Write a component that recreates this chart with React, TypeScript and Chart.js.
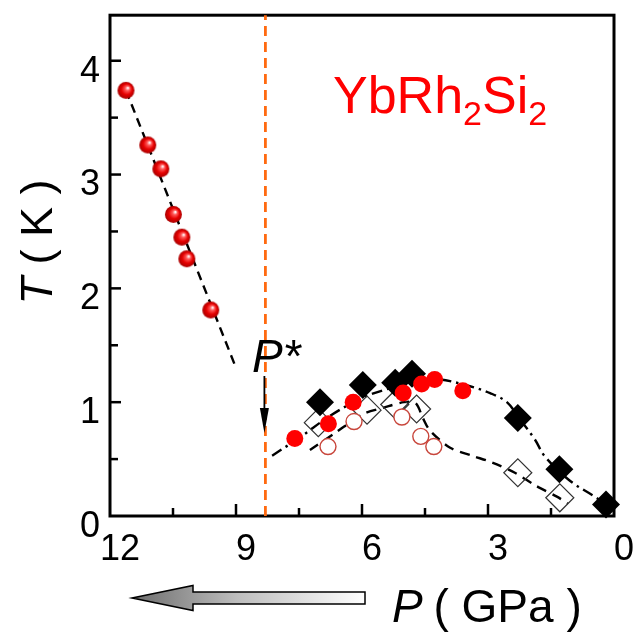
import React, { useEffect, useRef } from 'react';
import { Chart, registerables } from 'chart.js';

Chart.register(...registerables);

const FONT = '"Liberation Sans", Arial, Helvetica, sans-serif';

// ---- data (P in GPa, T in K) ----
const sphereRed: [number, number][] = [
  [11.62, 3.74], [11.1, 3.26], [10.79, 3.05], [10.49, 2.65], [10.29, 2.45], [10.17, 2.26], [9.6, 1.81],
];
const redFilled: [number, number][] = [
  [7.6, 0.68], [6.8, 0.81], [6.21, 1.0], [5.02, 1.08], [4.58, 1.16], [4.27, 1.2], [3.6, 1.1],
];
const redOpen: [number, number][] = [
  [6.81, 0.61], [6.19, 0.83], [5.05, 0.87], [4.6, 0.7], [4.29, 0.61],
];
const blackDiamond: [number, number][] = [
  [7.0, 1.0], [5.98, 1.15], [5.21, 1.17], [4.81, 1.25], [2.29, 0.86], [1.3, 0.41], [0.19, 0.1],
];
const openDiamond: [number, number][] = [
  [7.04, 0.82], [5.88, 0.93], [5.22, 0.98], [4.7, 0.94], [2.29, 0.38], [1.29, 0.16],
];
const guideA: [number, number][] = [
  [11.62, 3.74], [9.02, 1.32],
];
const guideB: [number, number][] = [
  [8.14, 0.53], [7.48, 0.69], [6.76, 0.88], [5.98, 1.04], [5.26, 1.13], [4.6, 1.19], [4.14, 1.2],
  [3.43, 1.14], [2.95, 1.08], [2.55, 1.0], [2.24, 0.85], [1.88, 0.67], [1.64, 0.52], [1.05, 0.31],
  [0.5, 0.18], [0.14, 0.09],
];
const guideC: [number, number][] = [
  [7.24, 0.58], [6.64, 0.73], [5.95, 0.9], [5.5, 0.95], [5.0, 1.0], [4.72, 0.99], [4.55, 0.86],
  [4.38, 0.75], [3.9, 0.6], [3.38, 0.53], [2.9, 0.47], [2.36, 0.38], [1.88, 0.27], [1.36, 0.17],
  [1.1, 0.11],
];
const pStar = 8.3;
const tRange: [number, number] = [0, 4.4];
const pRange: [number, number] = [0, 12];
const xMajor = [12, 9, 6, 3, 0];
const yMajor = [0, 1, 2, 3, 4];

const toXY = (arr: [number, number][]) => arr.map(([x, y]) => ({ x, y }));

function makeSphere(r: number): HTMLCanvasElement {
  const c = document.createElement('canvas');
  const s = Math.ceil(r * 2 + 2);
  c.width = s;
  c.height = s;
  const g = c.getContext('2d')!;
  const cx = s / 2, cy = s / 2;
  const grad = g.createRadialGradient(cx + 2, cy - 2.5, 0.5, cx, cy, r);
  grad.addColorStop(0, '#fff4f4');
  grad.addColorStop(0.22, '#ff5a5a');
  grad.addColorStop(0.6, '#e60000');
  grad.addColorStop(1, '#a80000');
  g.fillStyle = grad;
  g.beginPath();
  g.arc(cx, cy, r, 0, Math.PI * 2);
  g.fill();
  return c;
}

const isMult = (v: number, m: number) => Math.abs(v / m - Math.round(v / m)) < 1e-6;

const framePlugin = {
  id: 'frame',
  beforeDatasetsDraw(chart: any) {
    const { ctx, chartArea: a, scales } = chart;
    const x = scales.x, y = scales.y;
    ctx.save();
    ctx.strokeStyle = '#000';
    ctx.lineWidth = 2.5;
    x.ticks.forEach((t: any) => {
      const v = t.value;
      if (!isMult(v, 1.5) || v <= 0.01 || v >= 11.99) return;
      const px = x.getPixelForValue(v);
      const len = isMult(v, 3) ? 12 : 8;
      ctx.beginPath();
      ctx.moveTo(px, a.bottom);
      ctx.lineTo(px, a.bottom - len);
      ctx.stroke();
    });
    y.ticks.forEach((t: any) => {
      const v = t.value;
      if (!isMult(v, 0.5) || v <= 0.01 || v >= 4.39) return;
      const py = y.getPixelForValue(v);
      const len = isMult(v, 1) ? 11 : 8;
      ctx.beginPath();
      ctx.moveTo(a.left, py);
      ctx.lineTo(a.left + len, py);
      ctx.stroke();
    });
    ctx.lineWidth = 3;
    ctx.strokeRect(a.left, a.top, a.right - a.left, a.bottom - a.top);
    ctx.restore();
  },
  afterDraw(chart: any) {
    const { ctx, scales } = chart;
    const x = scales.x, y = scales.y;
    ctx.save();
    ctx.fillStyle = '#000';
    ctx.textBaseline = 'alphabetic';
    ctx.textAlign = 'left';

    // y-axis title: T ( K )
    {
      const it = `italic 45px ${FONT}`;
      const rg = `45px ${FONT}`;
      ctx.font = it;
      const w1 = ctx.measureText('T').width;
      ctx.font = rg;
      const rest = ' ( K )';
      const w2 = ctx.measureText(rest).width;
      ctx.translate(52, 242);
      ctx.rotate(-Math.PI / 2);
      const start = -(w1 + w2) / 2;
      ctx.font = it;
      ctx.fillText('T', start, 0);
      ctx.font = rg;
      ctx.fillText(rest, start + w1, 0);
      ctx.setTransform(1, 0, 0, 1, 0, 0);
    }

    // x-axis title: P ( GPa )
    {
      ctx.font = `italic 46px ${FONT}`;
      ctx.fillText('P', 392, 622);
      const w = ctx.measureText('P').width;
      ctx.font = `46px ${FONT}`;
      ctx.fillText(' ( GPa )', 392 + w - 2, 622);
    }

    // compound label
    {
      ctx.fillStyle = '#ff0000';
      let cx = 333;
      const big = `52px ${FONT}`, small = `34px ${FONT}`;
      const parts: [string, string, number][] = [
        ['YbRh', big, 113], ['2', small, 125], ['Si', big, 113], ['2', small, 125],
      ];
      parts.forEach(([s, f, b]) => {
        ctx.font = f;
        ctx.fillText(s, cx, b);
        cx += ctx.measureText(s).width;
      });
    }

    // P* label and arrow
    {
      ctx.fillStyle = '#000';
      ctx.font = `italic 46px ${FONT}`;
      ctx.fillText('P*', 252, 372);
      const ax = x.getPixelForValue(pStar) - 1;
      const y0 = y.getPixelForValue(1.23);
      const yTip = y.getPixelForValue(0.73);
      ctx.strokeStyle = '#000';
      ctx.lineWidth = 1.8;
      ctx.beginPath();
      ctx.moveTo(ax, y0);
      ctx.lineTo(ax, yTip - 20);
      ctx.stroke();
      ctx.beginPath();
      ctx.moveTo(ax, yTip);
      ctx.lineTo(ax - 4.5, yTip - 25);
      ctx.lineTo(ax + 4.5, yTip - 25);
      ctx.closePath();
      ctx.fill();
    }

    // gradient arrow under the axis
    {
      const tipX = 132, headX = 193, endX = 365, cy = 598;
      const grad = ctx.createLinearGradient(tipX, 0, endX, 0);
      grad.addColorStop(0, '#6c6c6c');
      grad.addColorStop(0.45, '#bdbdbd');
      grad.addColorStop(1, '#ffffff');
      ctx.beginPath();
      ctx.moveTo(tipX, cy);
      ctx.lineTo(headX, cy - 12.5);
      ctx.lineTo(headX, cy - 6);
      ctx.lineTo(endX, cy - 6);
      ctx.lineTo(endX, cy + 6);
      ctx.lineTo(headX, cy + 6);
      ctx.lineTo(headX, cy + 12.5);
      ctx.closePath();
      ctx.fillStyle = grad;
      ctx.fill();
      ctx.strokeStyle = '#000';
      ctx.lineWidth = 1.5;
      ctx.stroke();
    }
    ctx.restore();
  },
};

export default function App() {
  const ref = useRef<HTMLCanvasElement | null>(null);

  useEffect(() => {
    if (!ref.current) return;
    const sphere = makeSphere(8.5);
    const lineBase = { showLine: true, pointRadius: 0, borderColor: '#000', borderWidth: 2.4, fill: false };
    const chart = new Chart(ref.current, {
      type: 'scatter',
      data: {
        datasets: [
          {
            data: toXY(redFilled), pointStyle: 'circle', pointRadius: 8.5,
            backgroundColor: '#ff0000', borderColor: '#ff0000', borderWidth: 0,
          },
          {
            data: toXY(redOpen), pointStyle: 'circle', pointRadius: 8,
            backgroundColor: '#ffffff', borderColor: '#c8463c', borderWidth: 1.4,
          },
          {
            data: toXY(sphereRed), pointStyle: sphere as any, pointRadius: 8.5,
          },
          {
            data: toXY(blackDiamond), pointStyle: 'rectRot', pointRadius: 14,
            backgroundColor: '#000', borderColor: '#000', borderWidth: 0,
          },
          {
            data: toXY(openDiamond), pointStyle: 'rectRot', pointRadius: 14,
            backgroundColor: 'rgba(255,255,255,0)', borderColor: '#333', borderWidth: 1.2,
          },
          { ...lineBase, data: toXY(guideA), borderDash: [9, 6], tension: 0 },
          { ...lineBase, data: toXY(guideB), borderDash: [11, 5, 2.5, 5], tension: 0.35 },
          { ...lineBase, data: toXY(guideC), borderDash: [10, 7], tension: 0.3 },
          {
            ...lineBase, data: [{ x: pStar, y: tRange[0] }, { x: pStar, y: tRange[1] }],
            borderColor: '#ff6a10', borderWidth: 2.8, borderDash: [10, 6],
          },
        ] as any,
      },
      options: {
        responsive: false,
        animation: false,
        devicePixelRatio: 1,
        events: [],
        layout: { padding: { top: 12, right: 21, bottom: 0, left: 0 } },
        datasets: { scatter: { clip: false } } as any,
        plugins: { legend: { display: false }, tooltip: { enabled: false } },
        scales: {
          x: {
            type: 'linear', min: pRange[0], max: pRange[1], reverse: true, position: 'bottom',
            border: { display: false },
            grid: { display: false, drawTicks: false },
            ticks: {
              stepSize: 1.5, autoSkip: false, maxRotation: 0, padding: 12, labelOffset: 10,
              color: '#000', font: { family: FONT, size: 36 },
              callback: (v: any) => (xMajor.some((m) => Math.abs(m - v) < 1e-6) ? String(Math.round(v)) : ''),
            },
            afterFit: (s: any) => {
              s.height = 118;
              s.paddingLeft = 0; s.paddingRight = 0; s.paddingTop = 0; s.paddingBottom = 0;
            },
          },
          y: {
            type: 'linear', min: tRange[0], max: tRange[1], position: 'left',
            border: { display: false },
            grid: { display: false, drawTicks: false },
            ticks: {
              stepSize: 0.5, autoSkip: false, padding: 10, labelOffset: 11,
              color: '#000', font: { family: FONT, size: 36 },
              callback: (v: any) => (yMajor.some((m) => Math.abs(m - v) < 1e-6) ? String(Math.round(v)) : ''),
            },
            afterFit: (s: any) => {
              s.width = 110;
              s.paddingLeft = 0; s.paddingRight = 0; s.paddingTop = 0; s.paddingBottom = 0;
            },
          },
        },
      } as any,
      plugins: [framePlugin as any],
    });
    return () => chart.destroy();
  }, []);

  return (
    <div style={{ position: 'fixed', left: 0, top: 0, width: 635, height: 634, background: '#fff' }}>
      <canvas ref={ref} width={635} height={634} style={{ display: 'block' }} />
    </div>
  );
}
